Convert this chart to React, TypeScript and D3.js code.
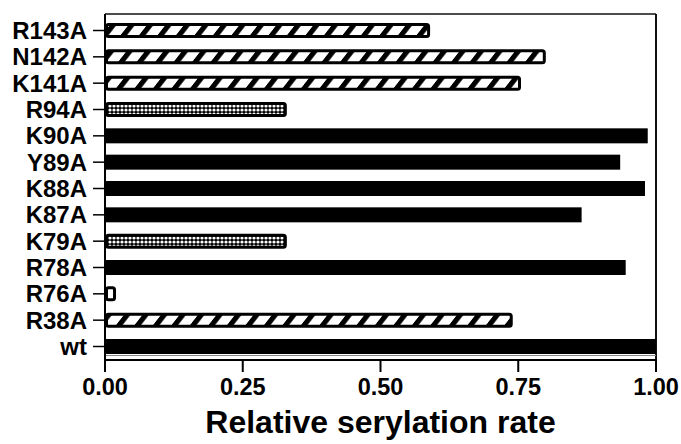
import React from "react";
import * as d3 from "d3";

const categories = ["R143A", "N142A", "K141A", "R94A", "K90A", "Y89A", "K88A", "K87A", "K79A", "R78A", "R76A", "R38A", "wt"];
const values = [0.59, 0.8, 0.755, 0.33, 0.985, 0.935, 0.98, 0.865, 0.33, 0.945, 0.02, 0.74, 1.0];
const fills = ["hatch", "hatch", "hatch", "checker", "solid", "solid", "solid", "solid", "checker", "solid", "open", "hatch", "solid"];
const xTicks = [0, 0.25, 0.5, 0.75, 1.0];
const xTitle = "Relative serylation rate";

const W = 681, H = 444;
const left = 105, right = 656, top = 14, axisY = 360;
const font = "'Liberation Sans', Arial, Helvetica, sans-serif";

export default function App() {
  const x = d3.scaleLinear().domain([0, 1]).range([left, right]);
  const y = d3.scalePoint<string>().domain(categories).range([30.5, 346.5]);
  const bh = 15;
  return (
    <svg width={W} height={H} style={{ position: "absolute", left: 0, top: 0, background: "#fff" }}>
      <defs>
        <pattern id="hatch" patternUnits="userSpaceOnUse" width={18.5} height={20} patternTransform="skewX(-38)">
          <rect x={0} y={0} width={18.5} height={20} fill="#fff" />
          <rect x={0} y={0} width={6.5} height={20} fill="#000" />
        </pattern>
        <pattern id="checker" patternUnits="userSpaceOnUse" width={4} height={4}>
          <rect x={0} y={0} width={4} height={4} fill="#000" />
          <circle cx={2} cy={2} r={1.6} fill="#fff" />
        </pattern>
      </defs>
      {/* frame */}
      <line x1={left} x2={right} y1={top} y2={top} stroke="#111" strokeWidth={1.5} />
      <line x1={right} x2={right} y1={top} y2={axisY} stroke="#111" strokeWidth={2} />
      <line x1={left} x2={right} y1={355.5} y2={355.5} stroke="#888" strokeWidth={1} />
      {/* bars */}
      {categories.map((c, i) => {
        const v = values[i];
        const f = fills[i];
        const cy = y(c)!;
        const x0 = x(0);
        const w = x(v) - x0;
        if (f === "solid") {
          return <rect key={c} x={x0} y={cy - bh / 2} width={w} height={bh} fill="#000" />;
        }
        const fill = f === "hatch" ? "url(#hatch)" : f === "checker" ? "url(#checker)" : "#fff";
        return (
          <rect key={c} x={x0 + 1.5} y={cy - bh / 2 + 1.5} width={Math.max(w - 3, 1)} height={bh - 3}
            rx={2} fill={fill} stroke="#000" strokeWidth={3} />
        );
      })}
      {/* y axis */}
      <line x1={left} x2={left} y1={top} y2={axisY + 1} stroke="#000" strokeWidth={2} />
      {categories.map((c) => (
        <g key={c}>
          <line x1={93} x2={left} y1={y(c)!} y2={y(c)!} stroke="#000" strokeWidth={1.5} />
          <text x={87} y={y(c)!} dy="0.36em" textAnchor="end" fontFamily={font} fontWeight="bold" fontSize={24} fill="#000">{c}</text>
        </g>
      ))}
      {/* x axis */}
      <line x1={left - 1} x2={right + 1} y1={axisY} y2={axisY} stroke="#000" strokeWidth={2} />
      {xTicks.map((t) => (
        <g key={t}>
          <line x1={x(t)} x2={x(t)} y1={axisY} y2={372} stroke="#000" strokeWidth={2} />
          <text x={x(t)} y={395} textAnchor="middle" fontFamily={font} fontWeight="bold" fontSize={23.5} fill="#000">{d3.format(".2f")(t)}</text>
        </g>
      ))}
      <text x={(left + right) / 2 + 0} y={433} textAnchor="middle" fontFamily={font} fontWeight="bold" fontSize={32} fill="#000">{xTitle}</text>
    </svg>
  );
}
